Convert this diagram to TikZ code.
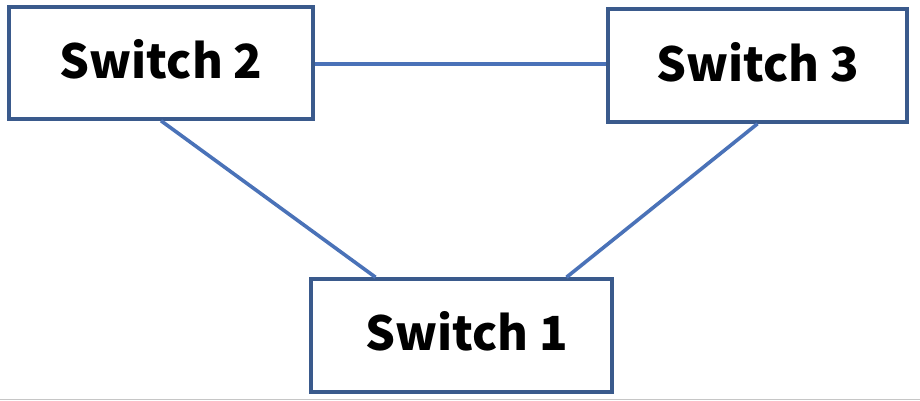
\documentclass[tikz,border=0pt]{standalone}
\usepackage{fontspec}
\newfontfamily\lab{Noto Sans CJK SC}
\usetikzlibrary{calc}
\definecolor{boxline}{HTML}{3A5A8C}
\definecolor{wire}{HTML}{4A72B8}
\begin{document}
\begin{tikzpicture}[x=1pt,y=-1pt,
  switchbox/.style={draw=boxline, line width=3.5pt, rectangle, inner sep=0pt,
    minimum width=302pt, minimum height=112pt,
    font=\lab\bfseries\fontsize{47}{56}\selectfont},
  link/.style={draw=wire, line width=3.6pt}]
  \useasboundingbox (0,0) rectangle (920,401);
  \fill[white] (0,0) rectangle (920,401);
  % thin grey rule along the lower edge
  \coordinate (ruleL) at (0,399.5);
  \coordinate (ruleR) at (920,399.5);
  \draw[gray!45, line width=1pt] (ruleL) -- (ruleR);

  \node[switchbox, minimum width=304pt] (s2) at (161,63) {\raisebox{8pt}{Switch 2}};
  \node[switchbox, minimum width=299pt, minimum height=113pt] (s3) at (757.5,65.5) {\raisebox{8pt}{Switch 3}};
  \node[switchbox, minimum width=301pt, minimum height=113pt] (s1) at (461.5,335.5) {\raisebox{9pt}{\hspace{10pt}Switch 1}};

  \draw[link] ([yshift=-1pt]s2.east) -- ([yshift=-1pt]s2.east -| s3.west);
  \draw[link] (s2.south) -- ([xshift=-86pt]s1.north);
  \draw[link] (s3.south) -- ([xshift=105pt]s1.north);
\end{tikzpicture}
\end{document}
